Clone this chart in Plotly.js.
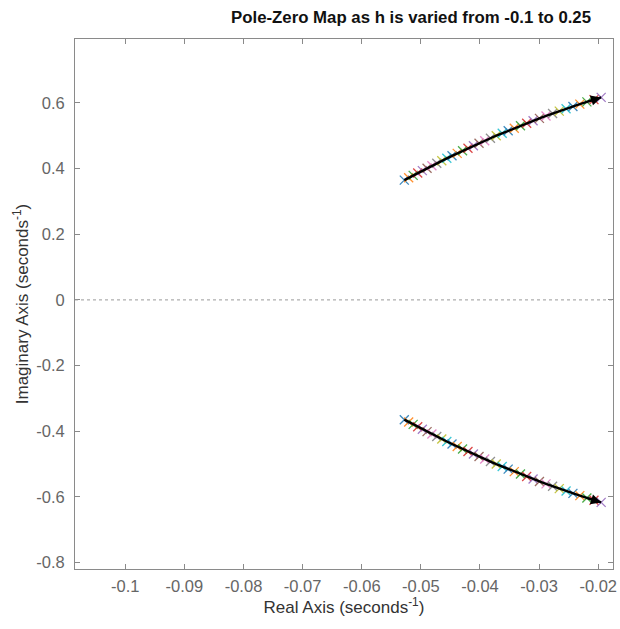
<!DOCTYPE html>
<html>
<head>
<meta charset="utf-8">
<script src="https://cdn.plot.ly/plotly-3.0.1.min.js"></script>
<style>html,body{margin:0;padding:0;background:#fff}#chart{width:620px;height:629px}</style>
</head>
<body>
<div id="chart"></div>
<script>
// Upper branch poles (real, imaginary) for each h value
const upperReal = [-0.0528,-0.05206,-0.0513,-0.05053,-0.04975,-0.04895,-0.04813,-0.04731,-0.04646,-0.04561,
  -0.04473,-0.04385,-0.04295,-0.04203,-0.04111,-0.04016,-0.0392,-0.03823,-0.03725,-0.03624,
  -0.03523,-0.0342,-0.03315,-0.0321,-0.03102,-0.02994,-0.02883,-0.02772,-0.02659,-0.02544,
  -0.02428,-0.02311,-0.02192,-0.02072,-0.0195];
const upperImag = [0.365,0.3721,0.3794,0.3866,0.394,0.4014,0.4088,0.4163,0.4238,0.4314,
  0.439,0.4466,0.4543,0.4619,0.4696,0.4773,0.4849,0.4926,0.5003,0.5079,
  0.5156,0.5232,0.5307,0.5383,0.5458,0.5532,0.5606,0.5679,0.5752,0.5824,
  0.5895,0.5965,0.6034,0.6103,0.617];
// Lower branch (complex conjugates)
const lowerReal = [-0.0528,-0.05206,-0.0513,-0.05053,-0.04975,-0.04895,-0.04813,-0.04731,-0.04646,-0.04561,
  -0.04473,-0.04385,-0.04295,-0.04203,-0.04111,-0.04016,-0.0392,-0.03823,-0.03725,-0.03624,
  -0.03523,-0.0342,-0.03315,-0.0321,-0.03102,-0.02994,-0.02883,-0.02772,-0.02659,-0.02544,
  -0.02428,-0.02311,-0.02192,-0.02072,-0.0195];
const lowerImag = [-0.365,-0.3721,-0.3794,-0.3866,-0.394,-0.4014,-0.4088,-0.4163,-0.4238,-0.4314,
  -0.439,-0.4466,-0.4543,-0.4619,-0.4696,-0.4773,-0.4849,-0.4926,-0.5003,-0.5079,
  -0.5156,-0.5232,-0.5307,-0.5383,-0.5458,-0.5532,-0.5606,-0.5679,-0.5752,-0.5824,
  -0.5895,-0.5965,-0.6034,-0.6103,-0.617];

const colorOrder = ['#0072BD','#D95319','#EDB120','#7E2F8E','#77AC30','#4DBEEE','#A2142F'];

const xTickVals = [-0.1,-0.09,-0.08,-0.07,-0.06,-0.05,-0.04,-0.03,-0.02];
const xTickText = ['-0.1','-0.09','-0.08','-0.07','-0.06','-0.05','-0.04','-0.03','-0.02'];
const yTickVals = [-0.8,-0.6,-0.4,-0.2,0,0.2,0.4,0.6];
const yTickText = ['-0.8','-0.6','-0.4','-0.2','0','0.2','0.4','0.6'];

const FONT = 'Liberation Sans, Arial, Helvetica, sans-serif';

const traces = [];
for (let i = 0; i < upperReal.length; i++) {
  traces.push({
    x: [upperReal[i], lowerReal[i]],
    y: [upperImag[i], lowerImag[i]],
    mode: 'markers', type: 'scatter', showlegend: false, hoverinfo: 'skip',
    opacity: 0.85,
    marker: {symbol: 'x-thin-open', size: 9, line: {width: 1.3, color: colorOrder[i % colorOrder.length]}}
  });
}
const n = upperReal.length;
traces.push({x: upperReal, y: upperImag, mode: 'lines', type: 'scatter', showlegend: false,
  line: {color: '#000', width: 2.4}, hoverinfo: 'skip'});
traces.push({x: lowerReal, y: lowerImag, mode: 'lines', type: 'scatter', showlegend: false,
  line: {color: '#000', width: 2.4}, hoverinfo: 'skip'});

const arrow = (xs, ys) => ({
  x: xs[n-1], y: ys[n-1], ax: xs[n-3], ay: ys[n-3],
  xref: 'x', yref: 'y', axref: 'x', ayref: 'y',
  showarrow: true, arrowhead: 2, arrowsize: 0.85, arrowwidth: 2.4, arrowcolor: '#000', text: ''
});

const axisCommon = {
  showline: true, linecolor: '#8a8a8a', linewidth: 1, mirror: 'ticks',
  ticks: 'inside', ticklen: 5, tickwidth: 1, tickcolor: '#8a8a8a',
  showgrid: false, zeroline: false,
  tickfont: {family: FONT, size: 16.5, color: '#666'},
  tickmode: 'array'
};

const layout = {
  width: 620, height: 629,
  margin: {l: 75, r: 7, t: 39, b: 60},
  paper_bgcolor: '#fff', plot_bgcolor: '#fff',
  title: {text: '<b>Pole-Zero Map as h is varied from -0.1 to 0.25</b>', x: 0.663, xanchor: 'center', y: 0.972, yanchor: 'middle',
    font: {family: FONT, size: 16.8, color: '#111'}},
  xaxis: Object.assign({}, axisCommon, {range: [-0.1085, -0.0175], tickvals: xTickVals, ticktext: xTickText,
    ticklabelstandoff: 2,
    title: {text: 'Real Axis (seconds<sup>-1</sup>)', standoff: 6, font: {family: FONT, size: 17, color: '#333'}}}),
  yaxis: Object.assign({}, axisCommon, {range: [-0.82, 0.795], tickvals: yTickVals, ticktext: yTickText,
    ticklabelstandoff: 6,
    title: {text: 'Imaginary Axis (seconds<sup>-1</sup>)', standoff: 3, font: {family: FONT, size: 17, color: '#333'}}}),
  shapes: [{type: 'line', xref: 'paper', yref: 'y', x0: 0, x1: 1, y0: 0, y1: 0,
    line: {color: '#999', width: 1, dash: 'dot'}}],
  annotations: [arrow(upperReal, upperImag), arrow(lowerReal, lowerImag)]
};

Plotly.newPlot('chart', traces, layout, {displayModeBar: false, staticPlot: true});
</script>
</body>
</html>
